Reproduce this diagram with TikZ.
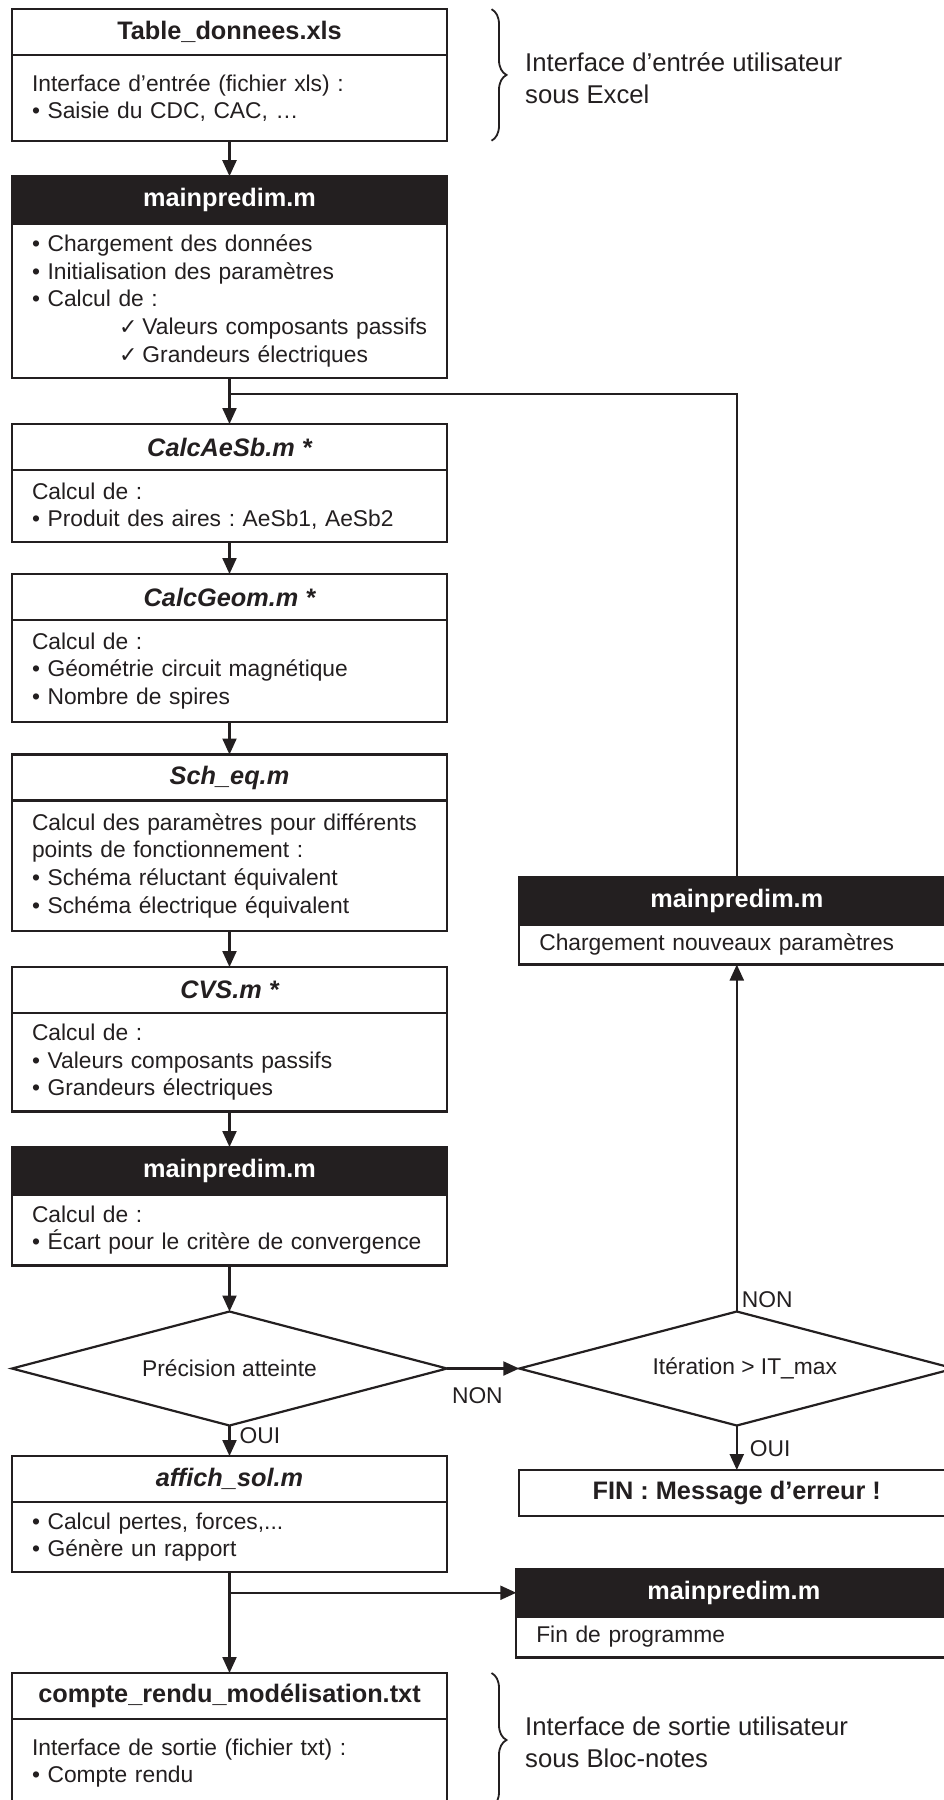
\documentclass[tikz,border=0pt]{standalone}
\usepackage{fontspec}
\setmainfont{Liberation Sans}
\newfontfamily\symbfont{DejaVu Sans}
\usetikzlibrary{arrows.meta, positioning, shapes.geometric, decorations.pathreplacing}
\definecolor{ink}{RGB}{35, 31, 32}
\newcommand{\flowBody}{\fontsize{22.8}{27.6}\selectfont}
\newcommand{\flowHead}{\fontsize{25.3}{30}\selectfont\bfseries}
\newcommand{\flowNote}{\fontsize{25.7}{31.7}\selectfont}
\newcommand{\chk}[1]{\mbox{\hspace*{87pt}{\symbfont\fontsize{22}{22}\selectfont ✓}\hspace{5pt}#1}}
\frenchspacing
\hyphenpenalty=10000
\exhyphenpenalty=10000

\begin{document}
\begin{tikzpicture}[
    x=1pt, y=1pt,
    headNode/.style={rectangle, draw=ink, fill=white, text=ink, line width=2.2pt, outer sep=0pt, minimum width=435pt, minimum height=46pt, font=\flowHead, align=center},
    italHead/.style={headNode, font=\flowHead\itshape},
    darkHead/.style={headNode, fill=ink, text=white, minimum height=47.5pt},
    bodyNode/.style={rectangle, draw=ink, fill=white, text=ink, line width=2.2pt, outer sep=0pt, text width=395pt, inner xsep=20pt, inner ysep=0pt, font=\flowBody, align=left},
    testNode/.style={diamond, draw=ink, fill=white, text=ink, line width=2.2pt, outer sep=0pt, inner sep=0pt, aspect=3.8, minimum width=435pt, minimum height=114pt, font=\flowBody},
    flowArrow/.style={-{Triangle[length=16pt, width=14pt]}, line width=2.2pt, draw=ink},
    flowLine/.style={line width=2.2pt, draw=ink},
    answer/.style={font=\flowBody, text=ink, inner sep=3pt},
    noteText/.style={font=\flowNote, text=ink, align=left, anchor=west, inner sep=0pt},
    userBrace/.style={decorate, decoration={brace, amplitude=15pt}, line width=1.8pt, draw=ink}
  ]
    \useasboundingbox (0,0) rectangle (944,-1800);
    \clip (0,0) rectangle (944,-1800);

    % Input and main program
    \node[headNode] (tabHead) at (229.5,-32.2) {Table\_donnees.xls};
    \node[bodyNode, minimum height=85.5pt, below=0pt of tabHead] (tabBody) {Interface d’entrée (fichier xls) :\\• Saisie du CDC, CAC, …};
    \node[darkHead, below=35.5pt of tabBody] (mp1Head) {mainpredim.m};
    \node[bodyNode, minimum height=154.5pt, below=0pt of mp1Head] (mp1Body) {• Chargement des données\\• Initialisation des paramètres\\• Calcul de :\\\chk{Valeurs composants passifs}\\\chk{Grandeurs électriques}};

    % Iteration loop
    \node[italHead, below=45.8pt of mp1Body] (aeHead) {CalcAeSb.m *};
    \node[bodyNode, minimum height=72pt, below=0pt of aeHead] (aeBody) {Calcul de :\\• Produit des aires : AeSb1, AeSb2};
    \node[italHead, below=32pt of aeBody] (geoHead) {CalcGeom.m *};
    \node[bodyNode, minimum height=102pt, below=0pt of geoHead] (geoBody) {Calcul de :\\• Géométrie circuit magnétique\\• Nombre de spires};
    \node[italHead, below=32.5pt of geoBody] (schHead) {Sch\_eq.m};
    \node[bodyNode, minimum height=130.5pt, below=0pt of schHead] (schBody) {Calcul des paramètres pour différents\\points de fonctionnement :\\• Schéma réluctant équivalent\\• Schéma électrique équivalent};
    \node[italHead, below=36pt of schBody] (cvsHead) {CVS.m *};
    \node[bodyNode, minimum height=98.5pt, below=0pt of cvsHead] (cvsBody) {Calcul de :\\• Valeurs composants passifs\\• Grandeurs électriques};
    \node[darkHead, below=35.5pt of cvsBody] (mp2Head) {mainpredim.m};
    \node[bodyNode, minimum height=71pt, below=0pt of mp2Head] (mp2Body) {Calcul de :\\• Écart pour le critère de convergence};
    \node[testNode, below=46pt of mp2Body] (prec) {Précision atteinte};

    % Tests on the right
    \node[testNode, right=72.3pt of prec] (iter) {\hspace*{16pt}Itération > IT\_max};
    \node[bodyNode, minimum height=40pt, above=347pt of iter] (chgBody) {Chargement nouveaux paramètres};
    \node[darkHead, above=0pt of chgBody] (chgHead) {mainpredim.m};
    \node[headNode, below=44.5pt of iter] (finBox) {FIN : Message d’erreur !};
    \node[darkHead, below=53pt of finBox, xshift=-3pt] (endHead) {mainpredim.m};
    \node[bodyNode, minimum height=41pt, below=0pt of endHead] (endBody) {Fin de programme};

    % Output
    \node[italHead, below=30.5pt of prec] (affHead) {affich\_sol.m};
    \node[bodyNode, minimum height=70pt, below=0pt of affHead] (affBody) {• Calcul pertes, forces,...\\• Génère un rapport};
    \node[headNode, below=101pt of affBody] (crHead) {compte\_rendu\_modélisation.txt};
    \node[bodyNode, minimum height=88pt, below=0pt of crHead] (crBody) {Interface de sortie (fichier txt) :\\• Compte rendu};

    % User interfaces
    \draw[userBrace] ([xshift=44.5pt]tabHead.north east) -- ([xshift=44.5pt]tabBody.south east);
    \node[noteText] (inNote) at (525,-78.5) {Interface d’entrée utilisateur\\sous Excel};
    \draw[userBrace] ([xshift=44.5pt]crHead.north east) -- ([xshift=44.5pt]crBody.south east);
    \node[noteText] (outNote) at (525,-1742.5) {Interface de sortie utilisateur\\sous Bloc-notes};

    % Connections
    \coordinate[below=16pt of mp1Body.south] (join);
    \coordinate (split) at (affBody.south |- endHead.west);

    \draw[flowArrow] (tabBody) -- (mp1Head);
    \draw[flowArrow] (mp1Body) -- (aeHead);
    \draw[flowArrow] (aeBody) -- (geoHead);
    \draw[flowArrow] (geoBody) -- (schHead);
    \draw[flowArrow] (schBody) -- (cvsHead);
    \draw[flowArrow] (cvsBody) -- (mp2Head);
    \draw[flowArrow] (mp2Body) -- (prec);

    \draw[flowArrow] (prec) -- node[answer, right=6pt, pos=0.32] {OUI} (affHead);
    \draw[flowArrow] (prec) -- node[answer, below=14.5pt, pos=0.42] {NON} (iter);
    \draw[flowArrow] (iter) -- node[answer, right=1pt, pos=0.035] {NON} (chgBody);
    \draw[flowLine] (chgHead) |- (join);
    \draw[flowArrow] (iter) -- node[answer, right=9pt, pos=0.52] {OUI} (finBox);

    \draw[flowArrow] (affBody) -- (crHead);
    \draw[flowArrow] (split) -- (endHead);
  \end{tikzpicture}
\end{document}
